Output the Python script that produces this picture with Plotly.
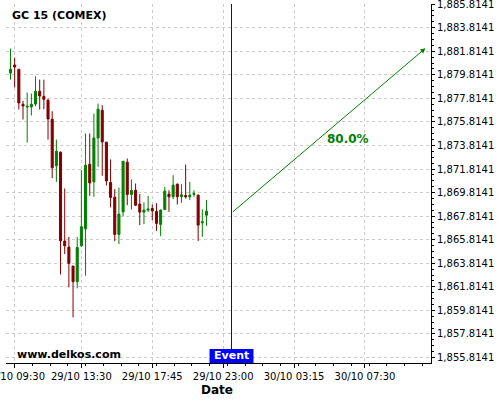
import plotly.graph_objects as go

title_text = "GC 15 (COMEX)"
x_tick_labels = ["29/10 09:30", "29/10 13:30", "29/10 17:45", "29/10 23:00", "30/10 03:15", "30/10 07:30"]
x_tick_index = [1, 17, 34, 51, 68, 85]

opens = [1879.97, 1880.65, 1880.29, 1877.32, 1877.09, 1877.09, 1877.34, 1878.42, 1877.98, 1877.66,
         1876.05, 1872.09, 1873.25, 1865.70, 1865.19, 1863.58, 1862.25, 1865.30, 1866.74, 1872.23,
         1870.73, 1874.46, 1876.81, 1874.10, 1870.68, 1869.43, 1866.27, 1868.18, 1872.40, 1869.66,
         1870.02, 1868.84, 1868.16, 1868.33, 1868.47, 1868.22, 1867.12, 1868.39, 1869.69, 1869.46,
         1870.53, 1869.46, 1869.57, 1869.46, 1869.66, 1869.60, 1867.25, 1867.90]
highs = [1882.04, 1881.28, 1880.29, 1877.60, 1878.31, 1878.23, 1879.69, 1879.41, 1879.41, 1877.80,
         1876.72, 1874.32, 1873.31, 1870.17, 1866.06, 1863.60, 1866.06, 1871.72, 1874.83, 1874.83,
         1876.53, 1877.38, 1877.23, 1874.12, 1872.63, 1870.11, 1870.25, 1872.48, 1872.71, 1870.93,
         1870.59, 1869.69, 1868.98, 1869.54, 1868.81, 1868.92, 1868.39, 1870.30, 1870.02, 1871.30,
         1870.59, 1870.53, 1872.20, 1870.73, 1870.02, 1869.66, 1868.39, 1869.18]
lows = [1879.41, 1878.74, 1876.87, 1876.02, 1874.07, 1876.36, 1877.15, 1876.87, 1876.90, 1874.32,
        1871.04, 1870.73, 1862.87, 1864.60, 1861.77, 1859.23, 1861.69, 1865.21, 1862.76, 1869.54,
        1869.46, 1872.00, 1871.24, 1870.42, 1868.56, 1865.70, 1865.45, 1867.79, 1868.75, 1868.39,
        1868.67, 1867.06, 1867.14, 1868.18, 1867.48, 1866.57, 1866.12, 1868.33, 1868.18, 1869.26,
        1868.81, 1868.95, 1869.32, 1869.18, 1869.46, 1865.70, 1866.06, 1866.99]
closes = [1880.29, 1880.48, 1877.43, 1877.17, 1877.15, 1877.32, 1878.42, 1878.02, 1877.74, 1876.07,
          1871.92, 1873.33, 1865.72, 1865.30, 1863.81, 1862.25, 1865.16, 1866.91, 1872.14, 1870.64,
          1874.46, 1876.90, 1874.12, 1870.81, 1869.41, 1866.27, 1867.99, 1872.48, 1869.66, 1870.00,
          1868.75, 1868.16, 1868.33, 1868.41, 1868.27, 1867.20, 1868.33, 1869.94, 1869.46, 1870.45,
          1869.46, 1869.63, 1869.46, 1869.60, 1869.74, 1867.06, 1867.34, 1868.24]

y_ticks = [1855.8141 + 2 * k for k in range(16)]
y_tick_labels = ["{:,.4f}".format(v) for v in y_ticks]

event_index = 53
arrow_start = 1868.09
arrow_end_index = 99.5
arrow_end = 1882.07
prob_label = "80.0%"

x = list(range(len(opens)))
GREEN = "#008000"
RED = "#800000"
FONT = "DejaVu Sans"

fig = go.Figure()
fig.add_trace(go.Candlestick(
    x=x, open=opens, high=highs, low=lows, close=closes,
    increasing=dict(line=dict(color=GREEN, width=1), fillcolor=GREEN),
    decreasing=dict(line=dict(color=RED, width=1), fillcolor=RED),
    whiskerwidth=0, showlegend=False, hoverinfo="skip",
))

fig.add_shape(type="line", x0=event_index, x1=event_index, y0=0, y1=1,
              xref="x", yref="paper", line=dict(color="#0000ff", width=1))
fig.add_shape(type="rect", x0=event_index - 5.27, x1=event_index + 5.27, y0=0, y1=0.039,
              xref="x", yref="paper", line=dict(width=0), fillcolor="#0000ff")
fig.add_annotation(x=event_index, y=0.0195, xref="x", yref="paper", text="<b>Event</b>",
                   showarrow=False, font=dict(family=FONT, size=11, color="white"),
                   xanchor="center", yanchor="middle")

fig.add_annotation(x=arrow_end_index, y=arrow_end, ax=event_index, ay=arrow_start,
                   xref="x", yref="y", axref="x", ayref="y", text="",
                   showarrow=True, arrowhead=2, arrowsize=1, arrowwidth=1, arrowcolor=GREEN)
fig.add_annotation(x=81, y=1874.35, xref="x", yref="y", text="<b>" + prob_label + "</b>",
                   showarrow=False, font=dict(family=FONT, size=12, color=GREEN))

fig.add_annotation(x=0.0094, y=0.969, xref="paper", yref="paper", text="<b>" + title_text + "</b>",
                   showarrow=False, xanchor="left", yanchor="middle",
                   font=dict(family=FONT, size=11, color="black"))
fig.add_annotation(x=0.021, y=0.025, xref="paper", yref="paper", text="<b>www.delkos.com</b>",
                   showarrow=False, xanchor="left", yanchor="middle",
                   font=dict(family=FONT, size=11, color="black"))
fig.add_annotation(x=0.4965, y=-0.0752, xref="paper", yref="paper", text="<b>Date</b>",
                   showarrow=False, xanchor="center", yanchor="middle",
                   font=dict(family=FONT, size=12, color="black"))

fig.update_layout(
    width=500, height=400,
    margin=dict(l=6, r=69, t=4, b=37),
    paper_bgcolor="white", plot_bgcolor="white",
    font=dict(family=FONT, size=10, color="black"),
    showlegend=False,
    xaxis=dict(
        range=[-1.08, 100.84], rangeslider=dict(visible=False),
        tickmode="array", tickvals=x_tick_index, ticktext=x_tick_labels,
        showgrid=True, gridcolor="#cccccc", griddash="3px,3px", gridwidth=1,
        showline=True, linecolor="black", linewidth=1,
        ticks="outside", ticklen=4, tickcolor="black",
        minor=dict(tickmode="linear", tick0=1, dtick=4.25, ticks="outside", ticklen=2,
                   tickcolor="black", showgrid=False),
        zeroline=False, fixedrange=True, automargin=False, ticklabeloverflow="allow",
    ),
    yaxis=dict(
        side="right", range=[1855.35, 1885.83],
        tickmode="array", tickvals=y_ticks, ticktext=y_tick_labels,
        showgrid=True, gridcolor="#cccccc", griddash="3px,3px", gridwidth=1,
        showline=True, linecolor="black", linewidth=1,
        ticks="outside", ticklen=3, tickcolor="black",
        minor=dict(tickmode="linear", tick0=1855.8141, dtick=0.5, ticks="outside", ticklen=2,
                   tickcolor="black", showgrid=False),
        zeroline=False, fixedrange=True, automargin=False, ticklabeloverflow="allow",
    ),
)

fig.write_html("out.html", config={"displayModeBar": False},
               post_script="document.body.style.margin='0';document.body.style.overflow='hidden';")
